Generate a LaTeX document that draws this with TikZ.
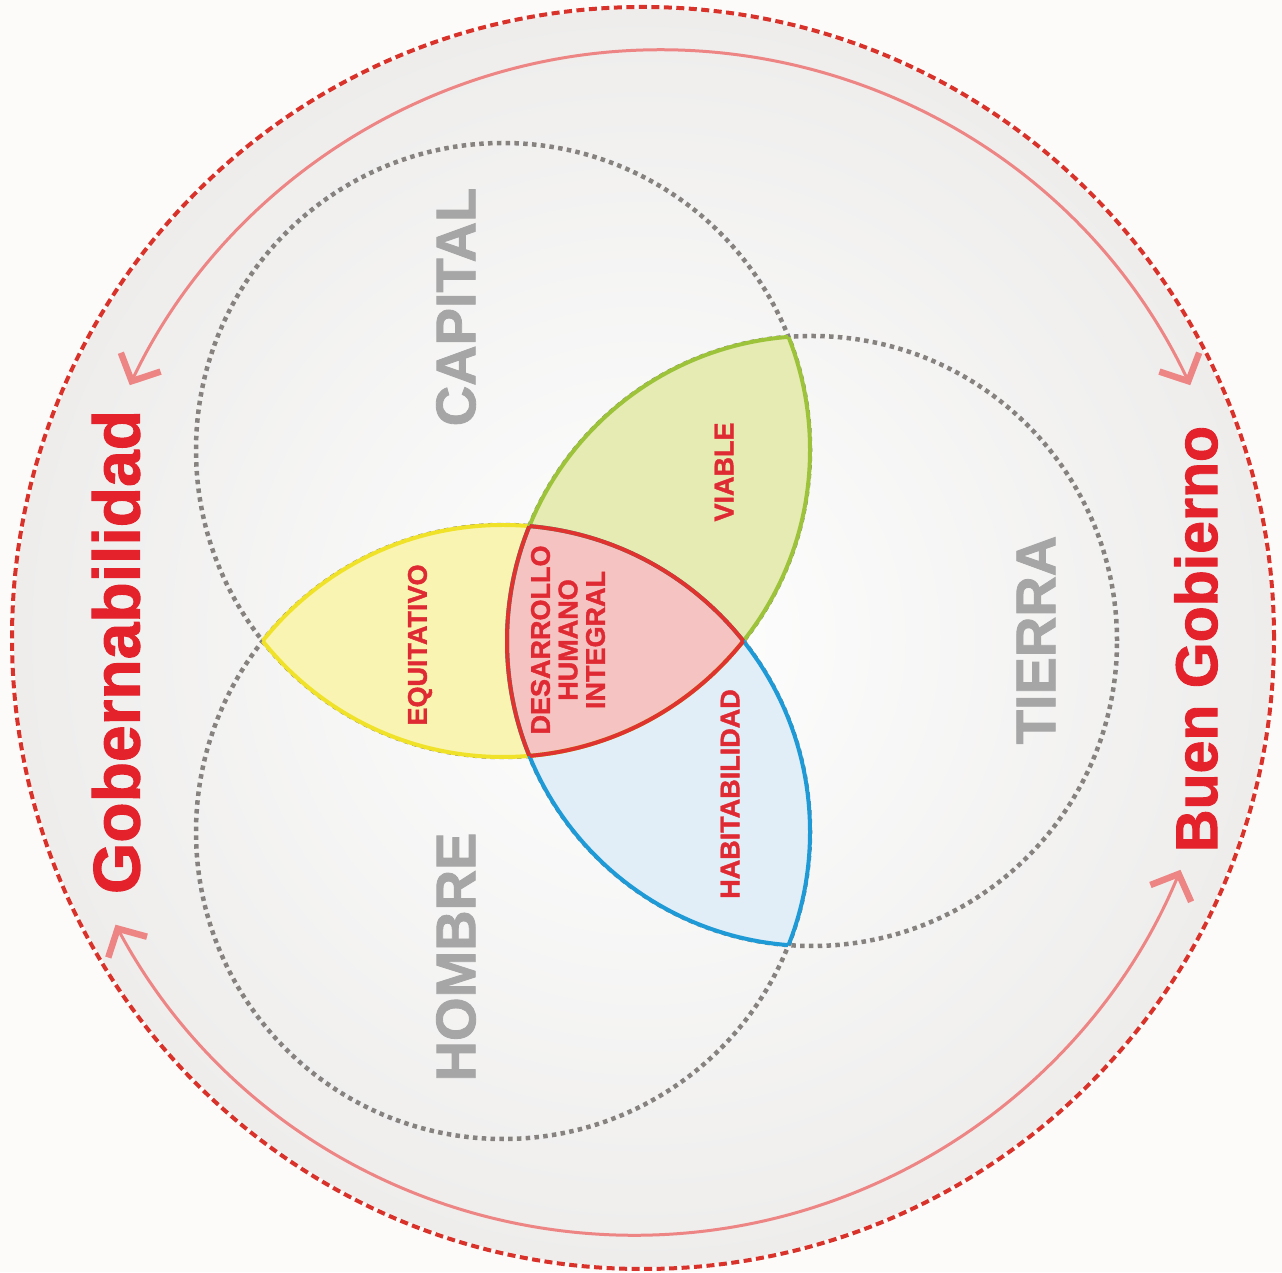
\documentclass[tikz,border=0pt]{standalone}
\usepackage{fontspec}
\setmainfont{Liberation Sans}
\newfontfamily\blackfont{Liberation Sans}[FakeBold=1.5]
\usepackage{tikz}
\usetikzlibrary{arrows.meta}
\definecolor{paper}{HTML}{FCFBFA}
\definecolor{band}{HTML}{EEEDEC}
\definecolor{ringred}{HTML}{D8322A}
\definecolor{cyclepink}{HTML}{EE8585}
\definecolor{dotgray}{HTML}{86827F}
\definecolor{setgray}{HTML}{A6A6A6}
\definecolor{polered}{HTML}{E4222C}
\definecolor{valred}{HTML}{E02A33}
\definecolor{equifill}{HTML}{FAF4B2}
\definecolor{equiline}{HTML}{F0E228}
\definecolor{viafill}{HTML}{E6EBB4}
\definecolor{vialine}{HTML}{9DC33B}
\definecolor{habfill}{HTML}{E1EDF7}
\definecolor{habline}{HTML}{1E9AD6}
\definecolor{dhifill}{HTML}{F6C3C3}
\definecolor{dhiline}{HTML}{E0322E}
\tikzset{
  outerring/.style={draw=ringred, line width=4pt, dash pattern=on 8pt off 4.5pt},
  cyclearr/.style={draw=cyclepink, line width=3pt, <->,
    >={Straight Barb[length=21pt,width=44pt,line width=6.5pt]}},
  setcircle/.style={draw=dotgray, line width=4.5pt, dash pattern=on 4.5pt off 4.3pt},
  leafedge/.style={line width=4pt},
  setname/.style={text=setgray, font=\blackfont\bfseries\fontsize{56}{56}\selectfont, rotate=90, inner sep=0pt},
  polename/.style={text=polered, font=\blackfont\bfseries\fontsize{#1}{#1}\selectfont, rotate=90, inner sep=0pt},
  valname/.style={text=valred, font=\blackfont\bfseries\fontsize{27}{27.5}\selectfont, rotate=90, inner sep=0pt}
}

\begin{document}
\begin{tikzpicture}[x=1pt, y=1pt]
  \useasboundingbox (0,0) rectangle (1282,1272);
  \fill[paper] (0,0) rectangle (1282,1272);

  \coordinate (ctr) at (643,634);
  \coordinate (capc) at (503,822);
  \coordinate (homc) at (503,440);
  \coordinate (tierc) at (812,631);

  % background disk and outer ring
  \shade[inner color=white, outer color=band] (ctr) circle (629pt);
  \draw[outerring] (ctr) circle (631pt);

  % cycle arrows
  \coordinate (topR) at ([shift={(25.4:587pt)}]660,635);
  \coordinate (botL) at ([shift={(208.3:590pt)}]635,627);
  \draw[cyclearr] (topR) arc[start angle=25.4, end angle=154.6, radius=587pt];
  \draw[cyclearr] (botL) arc[start angle=208.3, end angle=337.6, radius=590pt];

  % the three sets
  \draw[setcircle] (capc) circle (307pt);
  \draw[setcircle] (homc) circle (307pt);
  \draw[setcircle] (tierc) circle (305pt);

  % leaf fills
  \begin{scope}
    \clip (capc) circle (307pt);
    \clip (homc) circle (307pt);
    \fill[equifill] (0,0) rectangle (1282,1272);
  \end{scope}
  \begin{scope}
    \clip (capc) circle (307pt);
    \clip (tierc) circle (305pt);
    \fill[viafill] (0,0) rectangle (1282,1272);
  \end{scope}
  \begin{scope}
    \clip (homc) circle (307pt);
    \clip (tierc) circle (305pt);
    \fill[habfill] (0,0) rectangle (1282,1272);
  \end{scope}
  \begin{scope}
    \clip (capc) circle (307pt);
    \clip (homc) circle (307pt);
    \clip (tierc) circle (305pt);
    \fill[dhifill] (0,0) rectangle (1282,1272);
  \end{scope}

  % leaf edges
  \begin{scope}
    \clip (capc) circle (307pt);
    \draw[leafedge, draw=equiline] (homc) circle (307pt);
  \end{scope}
  \begin{scope}
    \clip (homc) circle (307pt);
    \draw[leafedge, draw=equiline] (capc) circle (307pt);
  \end{scope}
  \begin{scope}
    \clip (capc) circle (307pt);
    \draw[leafedge, draw=vialine] (tierc) circle (305pt);
  \end{scope}
  \begin{scope}
    \clip (tierc) circle (305pt);
    \draw[leafedge, draw=vialine] (capc) circle (307pt);
  \end{scope}
  \begin{scope}
    \clip (homc) circle (307pt);
    \draw[leafedge, draw=habline] (tierc) circle (305pt);
  \end{scope}
  \begin{scope}
    \clip (tierc) circle (305pt);
    \draw[leafedge, draw=habline] (homc) circle (307pt);
  \end{scope}

  % centre edges
  \begin{scope}
    \clip (homc) circle (307pt);
    \clip (tierc) circle (305pt);
    \draw[leafedge, draw=dhiline] (capc) circle (307pt);
  \end{scope}
  \begin{scope}
    \clip (capc) circle (307pt);
    \clip (tierc) circle (305pt);
    \draw[leafedge, draw=dhiline] (homc) circle (307pt);
  \end{scope}
  \begin{scope}
    \clip (capc) circle (307pt);
    \clip (homc) circle (307pt);
    \draw[leafedge, draw=dhiline] (tierc) circle (305pt);
  \end{scope}

  % labels
  \node[polename=66] (gob) at (116,620) {Gobernabilidad};
  \node[polename=59] (buen) at (1196,633) {Buen Gobierno};

  \node[setname] (capital) at (456,965) {CAPITAL};
  \node[setname] (hombre) at (456,315) {HOMBRE};
  \node[setname] (tierra) at (1036,632) {TIERRA};

  \node[valname] (equi) at (420,627) {EQUITATIVO};
  \node[valname] (viable) at (724,800) {VIABLE};
  \node[valname] (habit) at (730,478) {HABITABILIDAD};
  \node[valname, align=center] (dhi) at (568,632) {DESARROLLO\\HUMANO\\INTEGRAL};
\end{tikzpicture}
\end{document}
